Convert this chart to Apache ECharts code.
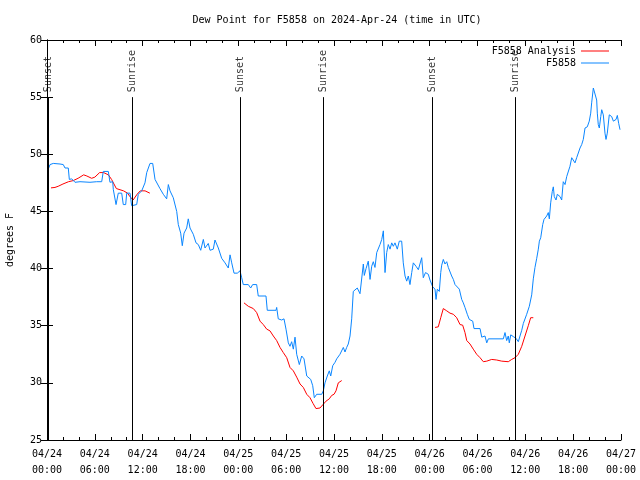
<!DOCTYPE html>
<html>
<head>
<meta charset="utf-8">
<script src="https://cdn.jsdelivr.net/npm/echarts@6/dist/echarts.min.js"></script>
<style>html,body{margin:0;padding:0;background:#fff}#c{width:640px;height:480px}</style>
</head>
<body>
<div id="c"></div>
<script>
// ---- data (hours since 2024-04-24 00:00 UTC) ----
const titleText = 'Dew Point for F5858 on 2024-Apr-24 (time in UTC)';
const yTicks = [25, 30, 35, 40, 45, 50, 55, 60];
const sunEventHours = [0.2, 10.72, 24.3, 34.62, 48.3, 58.74];
const sunEventNames = ['Sunset', 'Sunrise', 'Sunset', 'Sunrise', 'Sunset', 'Sunrise'];

const f5858Hours = [0.16,0.38,0.79,1.63,2.04,2.26,2.67,2.80,3.10,3.51,4.14,5.39,6.23,6.86,7.06,7.69,7.90,8.24,8.32,8.66,8.94,9.37,9.57,9.87,10.0,10.41,10.62,11.25,11.45,11.88,12.29,12.51,12.92,13.26,13.55,14.17,14.59,14.80,15.01,15.22,15.43,15.84,16.27,16.47,16.77,16.97,17.19,17.52,17.72,17.94,18.35,18.69,18.98,19.28,19.61,19.82,20.23,20.45,20.86,21.07,21.49,21.70,21.91,22.33,22.74,22.96,23.17,23.46,23.87,24.21,24.42,24.62,25.25,25.55,25.80,26.30,26.50,27.47,27.63,28.73,28.81,29.01,29.44,29.73,29.98,30.27,30.48,30.69,30.90,31.11,31.32,31.65,31.95,32.24,32.58,32.78,33.08,33.33,33.53,33.83,34.46,34.66,34.87,35.16,35.41,35.59,35.84,36.13,36.34,36.54,36.75,36.97,37.17,37.38,37.59,37.79,38.01,38.22,38.42,38.64,38.92,39.26,39.48,39.68,39.80,40.02,40.30,40.52,40.73,40.93,41.14,41.36,41.56,41.77,41.99,42.19,42.40,42.61,42.81,43.03,43.24,43.44,43.65,43.94,44.19,44.49,44.69,44.91,45.12,45.32,45.53,45.75,45.95,46.29,46.58,46.79,47.00,47.20,47.48,47.83,48.04,48.38,48.67,48.80,48.96,49.21,49.39,49.51,49.71,49.92,50.14,50.34,50.55,50.76,50.97,51.18,51.39,51.72,52.02,52.22,52.43,52.72,52.97,53.15,53.40,53.56,54.32,54.53,54.73,54.94,55.16,55.36,57.24,57.45,57.66,57.86,57.99,58.17,58.49,58.83,59.12,59.33,59.55,59.75,60.17,60.50,60.80,61.00,61.21,61.43,61.63,61.76,61.93,62.18,62.34,62.68,62.88,63.01,63.18,63.38,63.51,63.63,63.85,64.01,64.35,64.56,64.76,64.98,65.19,65.39,65.60,65.82,66.02,66.23,66.44,66.65,66.86,67.07,67.27,67.49,67.61,67.77,68.02,68.20,68.32,68.53,68.74,68.95,69.03,69.15,69.28,69.46,69.58,69.78,69.99,70.12,70.28,70.53,70.83,71.04,71.38,71.54,71.71,71.88];
const f5858Values = [48.7,49.1,49.2,49.15,49.1,48.8,48.8,47.8,47.85,47.55,47.6,47.55,47.6,47.6,48.5,48.5,47.55,47.6,46.9,45.6,46.6,46.6,45.6,45.6,46.6,46.6,45.5,45.6,46.5,46.8,47.5,48.4,49.2,49.2,47.8,47.0,46.5,46.6,46.1,47.35,46.8,46.2,45.0,43.85,43.1,42.0,43.1,43.55,44.35,43.55,43.0,42.25,42.1,41.6,42.55,41.8,42.2,41.6,41.7,42.5,41.8,41.7,40.9,40.5,40.05,41.2,40.5,39.6,39.6,39.8,39.2,38.6,38.6,38.3,38.6,38.6,37.6,37.6,36.35,36.35,36.6,35.6,35.5,35.6,34.7,33.5,33.2,33.6,32.95,34.0,32.5,31.6,32.35,32.1,30.6,30.5,30.3,29.75,28.7,29.0,29.0,29.3,30.0,30.6,31.05,30.6,31.5,31.8,32.1,32.1,32.5,32.35,33.1,32.7,33.1,33.4,34.1,35.6,38.0,38.15,38.3,37.8,37.8,40.4,39.4,40.0,40.65,39.05,40.2,40.6,40.1,41.4,41.5,42.1,42.55,43.3,39.65,41.4,42.1,41.7,42.25,41.95,42.25,41.7,42.4,42.4,40.5,39.35,38.9,39.35,38.6,39.65,40.5,40.2,39.9,39.8,40.95,39.2,39.65,39.5,39.0,38.4,38.2,37.3,38.2,38.0,39.65,40.3,40.8,40.4,40.6,40.1,40.2,39.35,39.05,38.6,38.5,38.2,37.3,37.0,36.6,36.0,35.55,35.7,35.4,34.75,34.75,34.0,33.85,34.1,33.5,33.85,33.85,34.4,33.7,34.1,33.5,34.2,34.05,33.9,33.6,34.1,34.6,35.2,36.0,36.7,37.7,39.1,40.1,40.9,41.7,42.4,42.7,43.85,44.3,44.6,44.9,44.35,45.75,46.75,47.15,46.3,46.0,46.5,46.3,46.0,47.6,47.35,48.05,47.9,48.95,49.7,49.6,49.25,49.7,49.85,50.55,50.85,51.3,52.3,52.15,52.4,52.9,53.6,54.5,55.8,55.7,54.75,53.6,52.6,52.3,53.3,53.9,53.45,51.85,51.3,51.85,53.45,53.3,52.9,53.05,53.4,52.7,52.15];

const analysisSeg1Hours = [0.5,1.0,1.4,2.0,2.7,3.3,3.9,4.6,5.0,5.6,6.0,6.6,7.1,7.7,8.1,8.7,9.6,10.1,10.4,10.8,11.3,11.7,12.3,12.9];
const analysisSeg1Values = [47.06,47.1,47.2,47.4,47.6,47.7,47.9,48.2,48.1,47.9,48.0,48.4,48.4,48.2,47.8,47.0,46.8,46.6,46.3,46.0,46.5,46.8,46.8,46.6];
const analysisSeg2Hours = [24.71,25.25,25.88,26.30,26.72,27.13,27.56,27.97,28.39,28.81,29.23,29.64,30.07,30.48,30.90,31.32,31.74,32.15,32.58,32.99,33.37,33.74,34.24,34.62,35.0,35.41,35.71,36.0,36.25,36.54,36.97];
const analysisSeg2Values = [37.0,36.7,36.5,36.15,35.4,35.1,34.7,34.55,34.1,33.7,33.1,32.65,32.2,31.35,31.05,30.5,29.9,29.6,29.0,28.7,28.2,27.75,27.8,28.1,28.4,28.6,28.9,29.0,29.3,30.0,30.2];
const analysisSeg3Hours = [48.67,49.08,49.39,49.71,50.14,50.55,50.97,51.39,51.81,52.14,52.43,52.65,53.06,53.47,53.90,54.32,54.73,55.16,55.78,56.41,57.04,57.86,58.29,58.70,59.12,59.55,59.96,60.37,60.67,61.0];
const analysisSeg3Values = [34.85,34.9,35.7,36.5,36.3,36.1,36.0,35.7,35.1,35.05,34.4,33.7,33.4,32.95,32.5,32.2,31.85,31.9,32.05,32.0,31.9,31.85,32.05,32.2,32.5,33.2,34.1,35.0,35.7,35.7];

// ---- build ----
const FONT = 'DejaVu Sans Mono';
const BLUE = '#0a86ff';
const RED = '#ff0000';
const zip = (a, b) => a.map((v, i) => [v, b[i]]);
const sunTop = 55;
const sunBottom = yTicks[0];

function xLabel(v) {
  const day = 24 + Math.floor(v / 24);
  const h = v % 24;
  return '04/' + day + '\n' + String(h).padStart(2, '0') + ':00';
}

const axisLine = { show: true, lineStyle: { color: '#000', width: 1 } };
const baseX = {
  type: 'value', min: 0, max: 72, interval: 6,
  axisLine: axisLine,
  axisTick: { show: true, inside: true, length: 6, lineStyle: { color: '#000' } },
  minorTick: { show: true, splitNumber: 3, length: 3, lineStyle: { color: '#000' } },
  splitLine: { show: false }, minorSplitLine: { show: false }
};
const baseY = {
  type: 'value', min: 25, max: 60, interval: 5,
  axisLine: axisLine,
  axisTick: { show: true, inside: true, length: 6, lineStyle: { color: '#000' } },
  splitLine: { show: false }
};

const lineSeries = (name, data, color) => ({
  name: name, type: 'line', data: data, symbol: 'none', showSymbol: false,
  lineStyle: { color: color, width: 1 }, itemStyle: { color: color },
  xAxisIndex: 0, yAxisIndex: 0, animation: false, z: 3
});

const legendCommon = {
  orient: 'vertical', align: 'right', icon: 'rect',
  itemWidth: 28, itemHeight: 1, itemGap: 2,
  textStyle: { fontFamily: FONT, fontSize: 10, color: '#000' }
};

const option = {
  animation: false,
  backgroundColor: '#fff',
  textStyle: { fontFamily: FONT },
  title: {
    text: titleText, left: 332, top: 10, textAlign: 'center',
    textStyle: { fontFamily: FONT, fontSize: 10, fontWeight: 'normal', color: '#000' }
  },
  legend: [
    Object.assign({ data: ['F5858 Analysis'], right: 26, top: 41 }, legendCommon),
    Object.assign({ data: ['F5858'], right: 26, top: 53 }, legendCommon)
  ],
  grid: { left: 47, right: 19, top: 40, bottom: 40, containLabel: false, outerBoundsMode: 'none' },
  xAxis: [
    Object.assign({}, baseX, { position: 'bottom',
      axisLabel: { show: true, formatter: xLabel, fontFamily: FONT, fontSize: 10, color: '#000', margin: 6, lineHeight: 16 } }),
    Object.assign({}, baseX, { position: 'top', axisLabel: { show: false } })
  ],
  yAxis: [
    Object.assign({}, baseY, { position: 'left', name: 'degrees F', nameLocation: 'middle', nameGap: 32, nameRotate: 90,
      nameTextStyle: { fontFamily: FONT, fontSize: 10, color: '#000' },
      axisLabel: { show: true, fontFamily: FONT, fontSize: 10, color: '#000', margin: 5 } }),
    Object.assign({}, baseY, { position: 'right', axisLabel: { show: false } })
  ],
  series: [
    {
      name: 'sun', type: 'scatter', xAxisIndex: 0, yAxisIndex: 0, symbolSize: 0,
      data: sunEventHours.map((h, i) => ({ value: [h, sunTop], name: sunEventNames[i] })),
      label: { show: true, formatter: p => p.name, position: 'top', distance: 5, rotate: 90,
        align: 'left', verticalAlign: 'middle', fontFamily: FONT, fontSize: 10, color: '#000' },
      markLine: {
        silent: true, symbol: 'none', animation: false,
        lineStyle: { color: '#000', width: 1, type: 'solid' },
        label: { show: false },
        data: sunEventHours.map(h => [{ coord: [h, sunBottom] }, { coord: [h, sunTop] }])
      },
      z: 2
    },
    lineSeries('F5858 Analysis', zip(analysisSeg1Hours, analysisSeg1Values), RED),
    lineSeries('F5858 Analysis', zip(analysisSeg2Hours, analysisSeg2Values), RED),
    lineSeries('F5858 Analysis', zip(analysisSeg3Hours, analysisSeg3Values), RED),
    lineSeries('F5858', zip(f5858Hours, f5858Values), BLUE)
  ]
};

const chart = echarts.init(document.getElementById('c'), null, { renderer: 'canvas' });
chart.setOption(option);
</script>
</body>
</html>
